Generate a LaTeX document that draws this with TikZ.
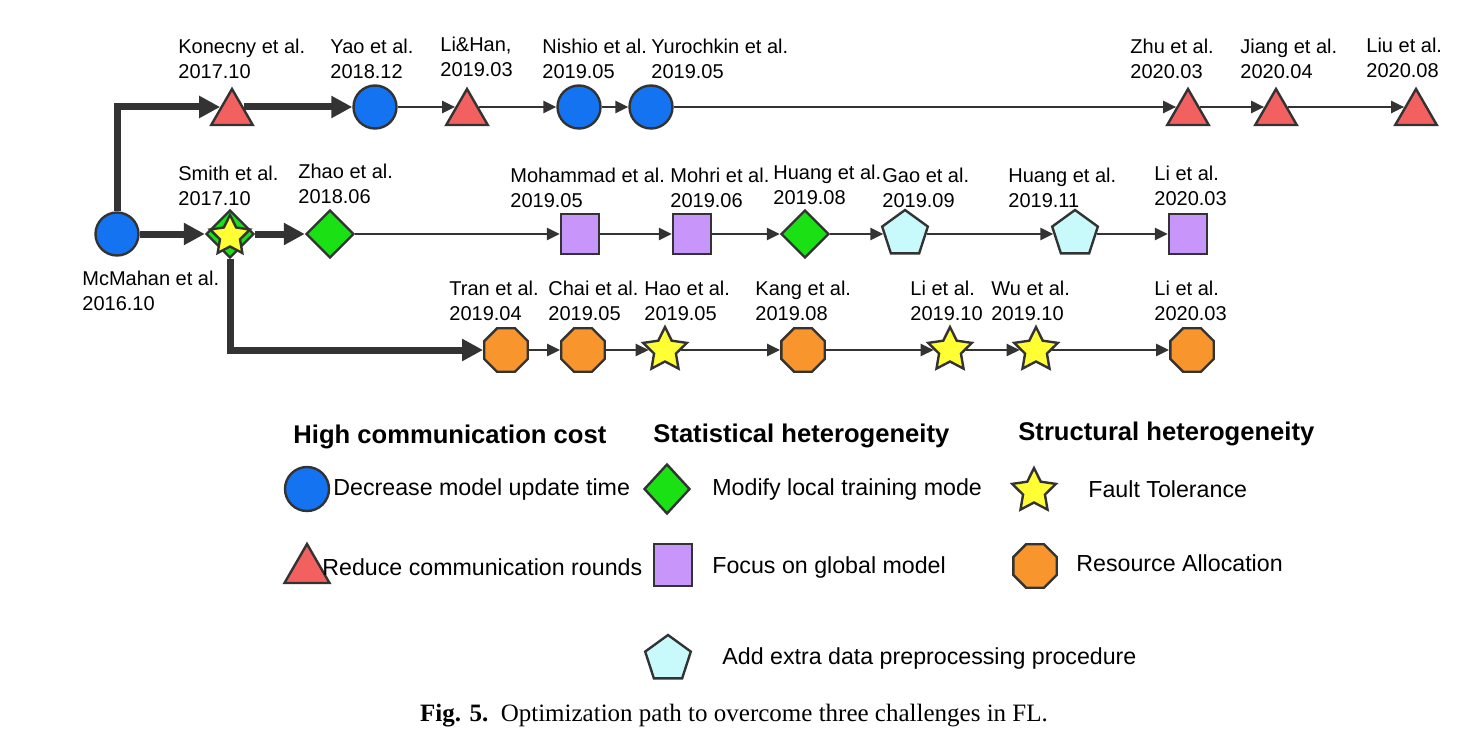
\documentclass[tikz,border=0pt]{standalone}
\usepackage{fontspec}
\setmainfont{Liberation Sans}
\newfontfamily\capfont{Liberation Serif}
\usetikzlibrary{arrows.meta,shapes.geometric}
\definecolor{linec}{HTML}{333333}
\definecolor{cblue}{RGB}{20,115,240}
\definecolor{cred}{RGB}{242,96,96}
\definecolor{cgreen}{RGB}{25,225,20}
\definecolor{cpurple}{RGB}{200,150,250}
\definecolor{ccyan}{RGB}{200,250,252}
\definecolor{corange}{RGB}{248,150,45}
\definecolor{cyellow}{RGB}{255,255,51}

\begin{document}
\begin{tikzpicture}[x=0.5pt,y=-0.5pt,
    base/.style={draw=linec,line width=1.2pt,inner sep=0pt},
    cir/.style={base,circle,fill=cblue,minimum size=21.5pt},
    tri/.style={base,regular polygon,regular polygon sides=3,fill=cred,minimum size=24pt},
    dia/.style={base,diamond,fill=cgreen,minimum width=24pt,minimum height=24pt},
    sq/.style={base,rectangle,fill=cpurple,minimum width=19pt,minimum height=20pt},
    pent/.style={base,regular polygon,regular polygon sides=5,fill=ccyan,minimum size=24pt},
    oct/.style={base,regular polygon,regular polygon sides=8,fill=corange,minimum size=23.5pt},
    str/.style={base,star,star points=5,star point ratio=2,fill=cyellow,minimum size=23pt},
    lbl/.style={anchor=west,align=left,inner sep=0pt,font=\fontsize{10}{12.5}\selectfont},
    key/.style={anchor=west,inner sep=0pt,font=\fontsize{11.6}{14}\selectfont},
    head/.style={anchor=west,inner sep=0pt,font=\fontsize{12.8}{15}\selectfont\bfseries},
    thk/.style={draw=linec,line width=3.5pt,-{Triangle[length=10.5pt,width=10.5pt]}},
    thn/.style={draw=linec,line width=1.2pt,-{Triangle[length=6.5pt,width=6pt]}},
    intri/.style={shorten >=-1.7pt},
    outtri/.style={shorten <=-1.7pt}]
\useasboundingbox (0,0) rectangle (1465,749);

\node[cir] (mcmahan) at (117,234) {};
\node[tri] (konecny) at (232,113) {};
\node[cir] (yao) at (375,107) {};
\node[tri] (lihan) at (467,113) {};
\node[cir] (nishio) at (579,107) {};
\node[cir] (yurochkin) at (651,107) {};
\node[tri] (zhu) at (1188,113) {};
\node[tri] (jiang) at (1276,113) {};
\node[tri] (liu) at (1416,113) {};

\node[dia] (smith) at (230,234) {};
\node[str,minimum size=21pt] (smithstar) at (230,236) {};
\node[dia] (zhao) at (330,234) {};
\node[sq] (mohammad) at (580,234) {};
\node[sq] (mohri) at (692,234) {};
\node[dia] (huangA) at (805,234) {};
\node[pent] (gao) at (905,234) {};
\node[pent] (huangB) at (1075,234) {};
\node[sq] (liA) at (1188,234) {};

\node[oct] (tran) at (506,350) {};
\node[oct] (chai) at (583,350) {};
\node[str] (hao) at (665,350) {};
\node[oct] (kang) at (803,350) {};
\node[str] (liB) at (950,350) {};
\node[str] (wu) at (1036,350) {};
\node[oct] (liC) at (1192,350) {};

\node[lbl] (mcmahant) at (82,291) {McMahan et al.\\2016.10};
\node[lbl] (konecnyt) at (178,59) {Konecny et al.\\2017.10};
\node[lbl] (yaot) at (330,59) {Yao et al.\\2018.12};
\node[lbl] (lihant) at (440,57) {Li\&Han,\\2019.03};
\node[lbl] (nishiot) at (542,59) {Nishio et al.\\2019.05};
\node[lbl] (yurochkint) at (651,59) {Yurochkin et al.\\2019.05};
\node[lbl] (zhut) at (1130,59) {Zhu et al.\\2020.03};
\node[lbl] (jiangt) at (1240,59) {Jiang et al.\\2020.04};
\node[lbl] (liut) at (1366,58) {Liu et al.\\2020.08};

\node[lbl] (smitht) at (178,186) {Smith et al.\\2017.10};
\node[lbl] (zhaot) at (298,184) {Zhao et al.\\2018.06};
\node[lbl] (mohammadt) at (510,188) {Mohammad et al.\\2019.05};
\node[lbl] (mohrit) at (670,188) {Mohri et al.\\2019.06};
\node[lbl] (huangAt) at (773,185) {Huang et al.\\2019.08};
\node[lbl] (gaot) at (882,188) {Gao et al.\\2019.09};
\node[lbl] (huangBt) at (1008,188) {Huang et al.\\2019.11};
\node[lbl] (liAt) at (1154,186) {Li et al.\\2020.03};

\node[lbl] (trant) at (449,301) {Tran et al.\\2019.04};
\node[lbl] (chait) at (548,301) {Chai et al.\\2019.05};
\node[lbl] (haot) at (644,301) {Hao et al.\\2019.05};
\node[lbl] (kangt) at (755,301) {Kang et al.\\2019.08};
\node[lbl] (liBt) at (910,301) {Li et al.\\2019.10};
\node[lbl] (wut) at (991,301) {Wu et al.\\2019.10};
\node[lbl] (liCt) at (1154,301) {Li et al.\\2020.03};

\draw[thk,intri] (mcmahan) |- (konecny.west |- yao);
\draw[thk,outtri] (konecny.east |- yao) -- (yao);
\draw[thk] (mcmahan) -- (smith);
\draw[thk] (smith) -- (zhao);
\draw[thk] (smith) |- (tran);

\draw[thn,intri] (yao) -- (yao -| lihan.west);
\draw[thn,outtri] (lihan.east |- nishio) -- (nishio);
\draw[thn] (nishio) -- (yurochkin);
\draw[thn,intri] (yurochkin) -- (yurochkin -| zhu.west);
\draw[thn,intri,outtri] (zhu.east |- yao) -- (jiang.west |- yao);
\draw[thn,intri,outtri] (jiang.east |- yao) -- (liu.west |- yao);

\draw[thn] (zhao) -- (mohammad);
\draw[thn] (mohammad) -- (mohri);
\draw[thn] (mohri) -- (huangA);
\draw[thn] (huangA) -- (gao);
\draw[thn] (gao) -- (huangB);
\draw[thn] (huangB) -- (liA);

\draw[thn] (tran) -- (chai);
\draw[thn] (chai) -- (hao);
\draw[thn] (hao) -- (kang);
\draw[thn] (kang) -- (liB);
\draw[thn] (liB) -- (wu);
\draw[thn] (wu) -- (liC);

\node[head] (costh) at (293,437) {High communication cost};
\node[head] (stath) at (653,436) {Statistical heterogeneity};
\node[head] (structh) at (1018,434) {Structural heterogeneity};

\node[cir,minimum size=22pt] (keycir) at (307,489) {};
\node[key] (keycirt) at (333,489) {Decrease model update time};
\node[tri,minimum size=26pt] (keytri) at (307,570) {};
\node[key] (keytrit) at (322,567) {Reduce communication rounds};
\node[dia,minimum width=23pt,minimum height=25pt] (keydia) at (667,489) {};
\node[key] (keydiat) at (712,489) {Modify local training mode};
\node[sq,minimum height=21pt] (keysq) at (673,565) {};
\node[key] (keysqt) at (712,567) {Focus on global model};
\node[pent] (keypent) at (668,659) {};
\node[key] (keypentt) at (722,658) {Add extra data preprocessing procedure};
\node[str] (keystr) at (1034,491) {};
\node[key] (keystrt) at (1088,489) {Fault Tolerance};
\node[oct] (keyoct) at (1035,566) {};
\node[key] (keyoctt) at (1076,563) {Resource Allocation};

\node (caption) at (734,716) {\capfont\fontsize{12.5}{15}\selectfont\textbf{Fig. 5.}\enspace Optimization path to overcome three challenges in FL.};
\end{tikzpicture}
\end{document}
